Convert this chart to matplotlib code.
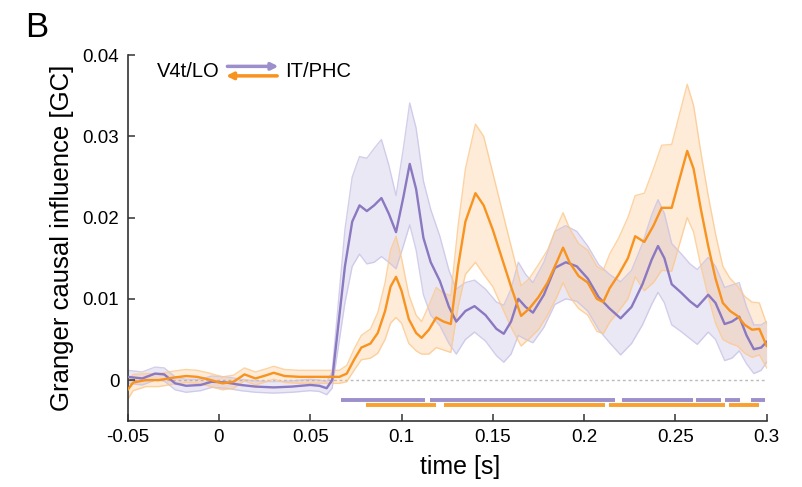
import numpy as np
import matplotlib
matplotlib.use('Agg')
import matplotlib.pyplot as plt

plt.rcParams['font.family'] = ['Liberation Sans', 'DejaVu Sans']
plt.rcParams['axes.unicode_minus'] = False

# V4t/LO -> IT/PHC (purple): time [s], mean GC, half width of band
t_fw = [-0.05, -0.042, -0.035, -0.03, -0.024, -0.018, -0.01, -0.004, 0.004, 0.012,
        0.02, 0.03, 0.04, 0.05, 0.055, 0.059, 0.062, 0.065, 0.069, 0.073,
        0.077, 0.081, 0.085, 0.089, 0.093, 0.097, 0.101, 0.1045, 0.108, 0.112,
        0.116, 0.121, 0.126, 0.130, 0.135, 0.140, 0.146, 0.152, 0.156, 0.160,
        0.164, 0.168, 0.172, 0.178, 0.184, 0.190, 0.196, 0.202, 0.208, 0.214,
        0.220, 0.226, 0.232, 0.237, 0.2405, 0.244, 0.248, 0.253, 0.258, 0.262,
        0.268, 0.272, 0.277, 0.281, 0.285, 0.289, 0.293, 0.297, 0.300]
gc_fw = [0.0004, 0.0002, 0.0008, 0.0007, -0.0004, -0.0007, -0.0006, -0.0002, -0.0003, -0.0006,
         -0.0008, -0.0009, -0.0008, -0.0006, -0.0007, -0.0010, 0.0000, 0.0060, 0.0140, 0.0195,
         0.0215, 0.0208, 0.0215, 0.0224, 0.0205, 0.0182, 0.0225, 0.0266, 0.0235, 0.0175,
         0.0145, 0.0122, 0.0090, 0.0072, 0.0085, 0.0091, 0.0080, 0.0063, 0.0057, 0.0072,
         0.0100, 0.0090, 0.0083, 0.0105, 0.0138, 0.0145, 0.0140, 0.0125, 0.0102, 0.0088,
         0.0076, 0.0090, 0.0118, 0.0148, 0.0165, 0.0150, 0.0118, 0.0108, 0.0097, 0.0090,
         0.0105, 0.0095, 0.0069, 0.0072, 0.0078, 0.0055, 0.0038, 0.0040, 0.0047]
err_fw = [0.0008, 0.0008, 0.0008, 0.0008, 0.0008, 0.0008, 0.0007, 0.0007, 0.0007, 0.0007,
          0.0007, 0.0007, 0.0007, 0.0007, 0.0007, 0.0008, 0.0010, 0.0025, 0.0045, 0.0055,
          0.0060, 0.0065, 0.0070, 0.0072, 0.0060, 0.0045, 0.0060, 0.0075, 0.0075, 0.0070,
          0.0065, 0.0055, 0.0045, 0.0040, 0.0035, 0.0032, 0.0032, 0.0033, 0.0035, 0.0040,
          0.0045, 0.0040, 0.0037, 0.0040, 0.0045, 0.0045, 0.0043, 0.0040, 0.0040, 0.0042,
          0.0045, 0.0045, 0.0050, 0.0055, 0.0057, 0.0055, 0.0050, 0.0048, 0.0046, 0.0046,
          0.0046, 0.0045, 0.0045, 0.0045, 0.0042, 0.0035, 0.0030, 0.0028, 0.0025]

# IT/PHC -> V4t/LO (orange)
t_bw = [-0.05, -0.047, -0.04, -0.033, -0.025, -0.018, -0.012, -0.006, 0.002, 0.008,
        0.014, 0.020, 0.026, 0.030, 0.036, 0.044, 0.052, 0.060, 0.066, 0.070,
        0.074, 0.078, 0.083, 0.087, 0.091, 0.094, 0.097, 0.100, 0.104, 0.108,
        0.111, 0.115, 0.119, 0.123, 0.127, 0.131, 0.135, 0.1405, 0.145, 0.150,
        0.155, 0.160, 0.1655, 0.170, 0.175, 0.180, 0.185, 0.1885, 0.192, 0.197,
        0.202, 0.207, 0.2105, 0.214, 0.219, 0.224, 0.228, 0.233, 0.238, 0.2425,
        0.248, 0.252, 0.2565, 0.260, 0.264, 0.268, 0.272, 0.276, 0.280, 0.284,
        0.288, 0.292, 0.296, 0.300]
gc_bw = [-0.0012, -0.0003, 0.0000, 0.0000, 0.0003, 0.0005, 0.0004, 0.0001, -0.0004, -0.0002,
         0.0007, 0.0002, 0.0006, 0.0009, 0.0005, 0.0004, 0.0004, 0.0004, 0.0004, 0.0008,
         0.0025, 0.0040, 0.0045, 0.0058, 0.0085, 0.0115, 0.0127, 0.0110, 0.0075, 0.0058,
         0.0052, 0.0062, 0.0077, 0.0072, 0.0069, 0.0140, 0.0195, 0.0230, 0.0215, 0.0185,
         0.0150, 0.0115, 0.0079, 0.0088, 0.0102, 0.0120, 0.0145, 0.0163, 0.0145, 0.0128,
         0.0120, 0.0100, 0.0096, 0.0113, 0.0130, 0.0150, 0.0177, 0.0170, 0.0190, 0.0212,
         0.0212, 0.0245, 0.0282, 0.0260, 0.0210, 0.0165, 0.0125, 0.0095, 0.0085, 0.0079,
         0.0068, 0.0062, 0.0063, 0.0042]
err_bw = [0.0012, 0.0010, 0.0008, 0.0008, 0.0008, 0.0008, 0.0008, 0.0008, 0.0008, 0.0008,
          0.0008, 0.0008, 0.0008, 0.0008, 0.0008, 0.0008, 0.0008, 0.0008, 0.0008, 0.0010,
          0.0013, 0.0015, 0.0018, 0.0025, 0.0035, 0.0045, 0.0050, 0.0040, 0.0030, 0.0022,
          0.0020, 0.0030, 0.0037, 0.0035, 0.0035, 0.0050, 0.0065, 0.0085, 0.0085, 0.0070,
          0.0060, 0.0050, 0.0037, 0.0037, 0.0040, 0.0040, 0.0043, 0.0043, 0.0042, 0.0040,
          0.0040, 0.0040, 0.0039, 0.0042, 0.0045, 0.0050, 0.0050, 0.0060, 0.0070, 0.0077,
          0.0078, 0.0080, 0.0082, 0.0078, 0.0070, 0.0062, 0.0055, 0.0045, 0.0040, 0.0037,
          0.0035, 0.0034, 0.0032, 0.0027]

# significant time windows
sig_fw = [(0.0671, 0.1131), (0.1157, 0.2172), (0.2208, 0.2599), (0.2613, 0.2750),
          (0.2774, 0.2854), (0.2913, 0.2993)]
sig_bw = [(0.0808, 0.1189), (0.1235, 0.2115), (0.2139, 0.2774), (0.2796, 0.2958)]

purple, purple_band, purple_edge, purple_bar = '#8a78c0', '#a59ad6', '#c9c3e6', '#9d8fcc'
orange, orange_band, orange_edge, orange_bar = '#f7931e', '#fca550', '#fcc98c', '#f9a02e'

fig = plt.figure(figsize=(8.03, 4.87), dpi=100)
ax = fig.add_axes([0.159, 0.1361, 0.7957, 0.7509])

ax.plot([-0.05, 0.3], [0, 0], color='#bbbbbb', lw=1, ls=(0, (2, 2)), zorder=0)

for t, m, e, c, cb, ce in [(t_fw, gc_fw, err_fw, purple, purple_band, purple_edge),
                           (t_bw, gc_bw, err_bw, orange, orange_band, orange_edge)]:
    t = np.array(t)
    m = np.array(m)
    e = np.array(e)
    ax.fill_between(t, m - e, m + e, color=cb, alpha=0.22, lw=0, zorder=1)
    ax.plot(t, m - e, color=ce, lw=1, alpha=0.8, zorder=2, solid_joinstyle='round')
    ax.plot(t, m + e, color=ce, lw=1, alpha=0.8, zorder=2, solid_joinstyle='round')

ax.plot(t_fw, gc_fw, color=purple, lw=1.7, zorder=3, solid_joinstyle='round')
ax.plot(t_bw, gc_bw, color=orange, lw=1.7, zorder=4, solid_joinstyle='round')

for a, b in sig_fw:
    ax.plot([a, b], [-0.0024, -0.0024], color=purple_bar, lw=2.8, solid_capstyle='butt')
for a, b in sig_bw:
    ax.plot([a, b], [-0.0031, -0.0031], color=orange_bar, lw=2.8, solid_capstyle='butt')

ax.set_xlim(-0.05, 0.3)
ax.set_ylim(-0.005, 0.04)
ax.set_xticks([-0.05, 0, 0.05, 0.1, 0.15, 0.2, 0.25, 0.3])
ax.set_xticklabels(['-0.05', '0', '0.05', '0.1', '0.15', '0.2', '0.25', '0.3'])
ax.set_yticks([0, 0.01, 0.02, 0.03, 0.04])
ax.set_yticklabels(['0', '0.01', '0.02', '0.03', '0.04'])
ax.tick_params(direction='in', length=5, width=1.1, labelsize=13.5, pad=6, color='#333333')
for s in ['top', 'right']:
    ax.spines[s].set_visible(False)
for s in ['left', 'bottom']:
    ax.spines[s].set_color('#333333')
    ax.spines[s].set_linewidth(1.2)

ax.set_xlabel('time [s]', fontsize=18)
ax.xaxis.set_label_coords(0.52, -0.095)
ax.set_ylabel('Granger causal influence [GC]', fontsize=18.5, labelpad=6)

# legend with arrows
ax.text(0.046, 0.956, 'V4t/LO', transform=ax.transAxes, fontsize=14.5, va='center', ha='left')
ax.text(0.246, 0.956, 'IT/PHC', transform=ax.transAxes, fontsize=14.5, va='center', ha='left')
ax.annotate('', xy=(0.236, 0.969), xytext=(0.156, 0.969), xycoords='axes fraction',
            arrowprops=dict(arrowstyle='-|>', color=purple_bar, lw=2.5, mutation_scale=10,
                            shrinkA=0, shrinkB=0))
ax.annotate('', xy=(0.154, 0.943), xytext=(0.234, 0.943), xycoords='axes fraction',
            arrowprops=dict(arrowstyle='-|>', color=orange, lw=2.5, mutation_scale=10,
                            shrinkA=0, shrinkB=0))

fig.text(0.031, 0.978, 'B', fontsize=25, va='top', ha='left')

fig.savefig('out.png', dpi=100)
